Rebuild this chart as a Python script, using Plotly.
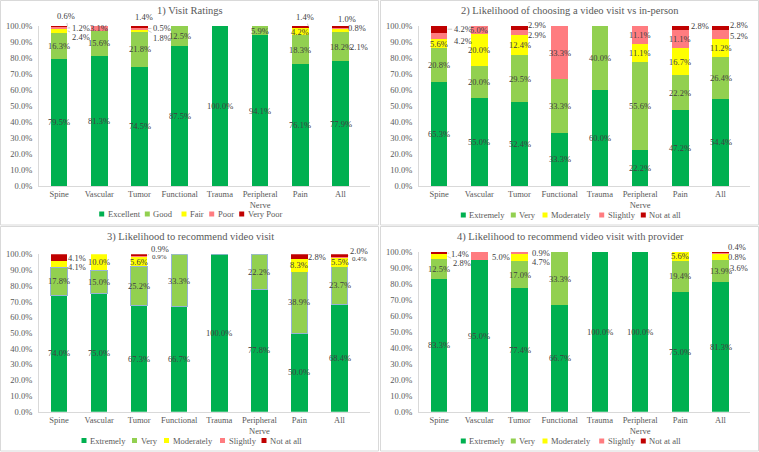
import plotly.graph_objects as go

# ---------------- data ----------------
categories = ["Spine", "Vascular", "Tumor", "Functional", "Trauma",
              "Peripheral Nerve", "Pain", "All"]
tick_labels = ["Spine", "Vascular", "Tumor", "Functional", "Trauma",
               "Peripheral<br>Nerve", "Pain", "All"]
y_ticks = [0, 10, 20, 30, 40, 50, 60, 70, 80, 90, 100]
y_tick_labels = ["0.0%", "10.0%", "20.0%", "30.0%", "40.0%", "50.0%",
                 "60.0%", "70.0%", "80.0%", "90.0%", "100.0%"]

rating_levels = ["Excellent", "Good", "Fair", "Poor", "Very Poor"]
likelihood_levels = ["Extremely", "Very", "Moderately", "Slightly", "Not at all"]

titles = ["1) Visit Ratings",
          "2) Likelihood of choosing a video visit vs in-person",
          "3) Likelihood to recommend video visit",
          "4) Likelihood to recommend video visit with provider"]

p1_excellent = [79.5, 81.3, 74.5, 87.5, 100.0, 94.1, 76.1, 77.9]
p1_good = [16.3, 15.6, 21.8, 12.5, 0, 5.9, 18.3, 18.2]
p1_fair = [2.4, 0, 1.8, 0, 0, 0, 4.2, 2.1]
p1_poor = [1.2, 3.1, 0.5, 0, 0, 0, 0, 0.8]
p1_very_poor = [0.6, 0, 1.4, 0, 0, 0, 1.4, 1.0]

p2_extremely = [65.3, 55.0, 52.4, 33.3, 60.0, 22.2, 47.2, 54.4]
p2_very = [20.8, 20.0, 29.5, 33.3, 40.0, 55.6, 22.2, 26.4]
p2_moderately = [5.6, 20.0, 12.4, 0, 0, 11.1, 16.7, 11.2]
p2_slightly = [4.2, 5.0, 2.9, 33.3, 0, 11.1, 11.1, 5.2]
p2_not_at_all = [4.2, 0, 2.9, 0, 0, 0, 2.8, 2.8]

p3_extremely = [74.0, 75.0, 67.3, 66.7, 100.0, 77.8, 50.0, 68.4]
p3_very = [17.8, 15.0, 25.2, 33.3, 0, 22.2, 38.9, 23.7]
p3_moderately = [4.1, 10.0, 5.6, 0, 0, 0, 8.3, 5.5]
p3_slightly = [0, 0, 0.9, 0, 0, 0, 0, 0.4]
p3_not_at_all = [4.1, 0, 0.9, 0, 0, 0, 2.8, 2.0]

p4_extremely = [83.3, 95.0, 77.4, 66.7, 100.0, 100.0, 75.0, 81.3]
p4_very = [12.5, 0, 17.0, 33.3, 0, 0, 19.4, 13.9]
p4_moderately = [2.8, 0, 4.7, 0, 0, 0, 5.6, 3.6]
p4_slightly = [0, 5.0, 0.9, 0, 0, 0, 0, 0.8]
p4_not_at_all = [1.4, 0, 0, 0, 0, 0, 0, 0.4]

# ---------------- styling ----------------
W, H = 759, 452
FONT = "'Liberation Serif', 'Times New Roman', 'DejaVu Serif', serif"
LABEL_COLOR = "#404040"
AXIS_TEXT = "#595959"
LINE = "#d9d9d9"
colors = ["#00b050", "#92d050", "#ffff00", "#ff7c80", "#c00000"]
HALF_BAR = 8.5

# outside label placements: (category idx, series idx) -> (dx, dy, leader, size)
outside = [
    {(0, 4): (-2, -10, True, 8.5), (0, 3): (13, 0, True, 8.5), (0, 2): (13, 6, True, 8.5),
     (2, 4): (-4, -10, False, 8.5), (2, 3): (14, -1, True, 8.5), (2, 2): (14, 8, True, 8.5),
     (6, 4): (-4, -10, True, 8.5),
     (7, 4): (-2, -8, False, 8.5), (7, 3): (8, 0, False, 8.5), (7, 2): (10, 16, False, 8.5)},
    {(0, 4): (15, 0, True, 8.5), (0, 3): (15, 5, False, 8.5),
     (2, 4): (9, -3, False, 8.5), (2, 3): (9, 2, False, 8.5),
     (6, 4): (11, -2, True, 8.5),
     (7, 4): (10, -3, False, 8.5), (7, 3): (10, 1, False, 8.5)},
    {(0, 4): (9, 0, False, 8.5), (0, 2): (9, 3, False, 8.5),
     (2, 4): (12, -6, True, 8.5), (2, 3): (12, 0, False, 7),
     (6, 4): (9, 0, False, 8.5),
     (7, 4): (11, -5, True, 8.5), (7, 3): (11, 1, False, 7)},
    {(0, 4): (12, 1, True, 8.5), (0, 2): (14, 7, True, 8.5),
     (1, 3): (13, 1, False, 8.5),
     (2, 3): (13, 0, False, 8.5), (2, 2): (13, 5, False, 8.5),
     (7, 4): (8, -5, False, 8.5), (7, 3): (8, 4, True, 8.5), (7, 2): (10, 11, False, 8.5)},
]

panels = [
    dict(levels=rating_levels,
         series=[p1_excellent, p1_good, p1_fair, p1_poor, p1_very_poor],
         ox=0, oy=0, y0=186, y1=26, legend_y=214,
         legend_x=[101.7, 147.3, 184, 211.7, 241.7]),
    dict(levels=likelihood_levels,
         series=[p2_extremely, p2_very, p2_moderately, p2_slightly, p2_not_at_all],
         ox=380, oy=0, y0=186, y1=26, legend_y=215,
         legend_x=[83.3, 133.3, 165, 221.7, 263.3]),
    dict(levels=likelihood_levels,
         series=[p3_extremely, p3_very, p3_moderately, p3_slightly, p3_not_at_all],
         ox=0, oy=226, y0=411.7, y1=254.3, legend_y=440.5,
         legend_x=[84, 134.5, 166.5, 222.5, 264]),
    dict(levels=likelihood_levels,
         series=[p4_extremely, p4_very, p4_moderately, p4_slightly, p4_not_at_all],
         ox=380, oy=226, y0=411.7, y1=252, legend_y=441,
         legend_x=[83.3, 133.3, 165, 221.7, 263.3]),
]

fig = go.Figure()
annotations = []
shapes = []
layout_axes = {}

for i, p in enumerate(panels):
    s = "" if i == 0 else str(i + 1)
    xr, yr = "x" + s, "y" + s
    for j, (lvl, vals) in enumerate(zip(p["levels"], p["series"])):
        line = dict(width=0)
        if i == 2 and j == 1:
            line = dict(color="#95b3d7", width=1)
        fig.add_trace(go.Bar(
            x=categories, y=vals, name=lvl, xaxis=xr, yaxis=yr,
            marker=dict(color=colors[j], line=line), showlegend=False,
            cliponaxis=False, hovertemplate="%{x}: %{y:.1f}%<extra>" + lvl + "</extra>"))

    # data labels
    base = [0.0] * len(categories)
    for j, vals in enumerate(p["series"]):
        for k, v in enumerate(vals):
            if v > 0:
                mid = base[k] + v / 2
                txt = f"{v:.1f}%"
                key = (k, j)
                if key in outside[i]:
                    dx, dy, leader, fs = outside[i][key]
                    if leader:
                        annotations.append(dict(
                            x=categories[k], y=mid, xref=xr, yref=yr, text=txt,
                            showarrow=True, ax=dx, ay=dy, arrowhead=0, arrowwidth=0.6,
                            arrowcolor="#a6a6a6", xshift=HALF_BAR,
                            font=dict(family=FONT, size=fs, color=LABEL_COLOR)))
                    else:
                        annotations.append(dict(
                            x=categories[k], y=mid, xref=xr, yref=yr, text=txt,
                            showarrow=False, xshift=HALF_BAR + dx, yshift=-dy,
                            font=dict(family=FONT, size=fs, color=LABEL_COLOR)))
                else:
                    annotations.append(dict(
                        x=categories[k], y=mid, xref=xr, yref=yr, text=txt,
                        showarrow=False,
                        font=dict(family=FONT, size=8.5, color=LABEL_COLOR)))
                base[k] += v

    ox, oy = p["ox"], p["oy"]
    layout_axes["xaxis" + s] = dict(
        domain=[(ox + 39) / W, (ox + 370) / W], anchor=yr, type="category",
        categoryorder="array", categoryarray=categories, automargin=False,
        tickmode="array", tickvals=categories, ticktext=tick_labels,
        showline=True, linecolor=LINE,
        linewidth=1, ticks="", showgrid=False, zeroline=False, fixedrange=True,
        tickfont=dict(family=FONT, size=8.5, color=AXIS_TEXT))
    layout_axes["yaxis" + s] = dict(
        domain=[1 - p["y0"] / H, 1 - p["y1"] / H], anchor=xr, range=[0, 100],
        automargin=False, tickmode="array", tickvals=y_ticks, ticktext=y_tick_labels,
        showline=True, linecolor=LINE, linewidth=1, ticks="", showgrid=False,
        zeroline=False, fixedrange=True, ticklabelstandoff=4,
        tickfont=dict(family=FONT, size=8.5, color=AXIS_TEXT))

    # title
    annotations.append(dict(
        x=(ox + 190) / W, y=1 - (oy + 11) / H, xref="paper", yref="paper",
        text=titles[i], showarrow=False, xanchor="center", yanchor="middle",
        font=dict(family=FONT, size=10.5, color=AXIS_TEXT)))

    # panel border
    shapes.append(dict(type="rect", xref="paper", yref="paper",
                       x0=(ox + 0.5) / W, x1=(ox + 378.5) / W,
                       y0=1 - (oy + 225) / H, y1=1 - (oy + 0.5) / H,
                       line=dict(color=LINE, width=1)))

    # legend (manual, compact like the original)
    ly = p["legend_y"]
    for j, lvl in enumerate(p["levels"]):
        mx = ox + p["legend_x"][j]
        shapes.append(dict(type="rect", xref="paper", yref="paper",
                           x0=(mx - 2.5) / W, x1=(mx + 2.5) / W,
                           y0=1 - (ly + 2.5) / H, y1=1 - (ly - 2.5) / H,
                           fillcolor=colors[j], line=dict(width=0)))
        annotations.append(dict(
            x=(mx + 4) / W, y=1 - ly / H, xref="paper", yref="paper",
            text=lvl, showarrow=False, xanchor="left", yanchor="middle",
            font=dict(family=FONT, size=8.5, color=AXIS_TEXT)))

fig.update_layout(
    template="none",
    width=W, height=H, autosize=False,
    margin=dict(l=0, r=0, t=0, b=0, autoexpand=False),
    barmode="stack", bargap=0.59,
    paper_bgcolor="white", plot_bgcolor="white",
    font=dict(family=FONT, size=8.5, color=AXIS_TEXT),
    showlegend=False,
    annotations=annotations, shapes=shapes,
    **layout_axes)

fig.write_html(
    "out.html",
    config={"displayModeBar": False},
    post_script="document.body.style.margin='0';document.body.style.overflow='hidden';")
